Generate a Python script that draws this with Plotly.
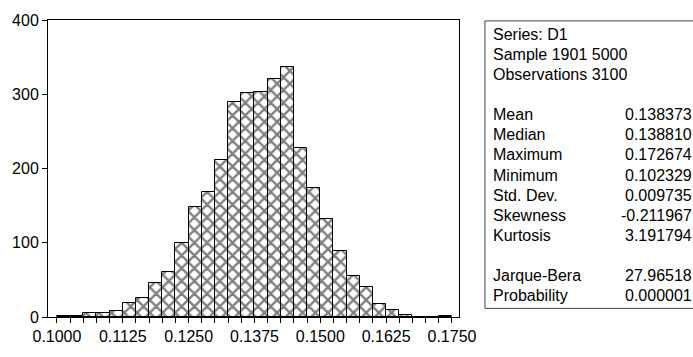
import plotly.graph_objects as go

# ---- data ----
bin_lower = [0.1000, 0.1025, 0.1050, 0.1075, 0.1100, 0.1125, 0.1150, 0.1175, 0.1200, 0.1225,
             0.1250, 0.1275, 0.1300, 0.1325, 0.1350, 0.1375, 0.1400, 0.1425, 0.1450, 0.1475,
             0.1500, 0.1525, 0.1550, 0.1575, 0.1600, 0.1625, 0.1650, 0.1675, 0.1700, 0.1725]
counts = [1, 2, 6, 5, 8, 19, 25, 46, 61, 99,
          148, 169, 212, 289, 302, 303, 320, 337, 228, 174,
          132, 89, 55, 40, 18, 10, 3, 0, 0, 1]
bin_width = 0.0025

stat_header = ["Series: D1", "Sample 1901 5000", "Observations 3100"]
stat_names = ["Mean", "Median", "Maximum", "Minimum", "Std. Dev.", "Skewness", "Kurtosis"]
stat_values = ["0.138373", "0.138810", "0.172674", "0.102329", "0.009735", "-0.211967", "3.191794"]
test_names = ["Jarque-Bera", "Probability"]
test_values = ["27.96518", "0.000001"]

FONT = "Liberation Sans, Arial, sans-serif"

fig = go.Figure()
fig.add_trace(go.Bar(
    x=bin_lower, y=counts, width=bin_width, offset=0,
    marker=dict(color="white", line=dict(color="black", width=1),
                pattern=dict(shape="x", fgcolor="black", bgcolor="white", size=9, solidity=0.45)),
    hoverinfo="skip",
))

W, H = 693, 357
L, R, T, B = 47, 459, 18, 328
fig.update_layout(
    width=W, height=H,
    margin=dict(l=L, r=W - R, t=T, b=H - B, pad=0),
    paper_bgcolor="white", plot_bgcolor="white",
    bargap=0, showlegend=False,
    font=dict(family=FONT, size=16, color="black"),
)
fig.update_xaxes(
    range=[0.09830, 0.17633], tick0=0.1, dtick=0.0125, tickformat=".4f",
    ticks="outside", ticklen=5, tickwidth=1, tickcolor="black",
    minor=dict(tick0=0.1, dtick=0.0025, ticks="outside", ticklen=5, tickcolor="black", showgrid=False),
    showline=True, linecolor="black", linewidth=1, mirror=True,
    showgrid=False, zeroline=False,
)
fig.update_yaxes(
    range=[0, 400], dtick=100, ticks="outside", ticklen=5, tickwidth=1, tickcolor="black",
    showline=True, linecolor="black", linewidth=1, mirror=True,
    showgrid=False, zeroline=False,
)

def px_x(p):
    return (p - L) / (R - L)

def px_y(p):
    return (B - p) / (B - T)

# stats box
fig.add_shape(type="rect", xref="paper", yref="paper",
              x0=px_x(485), x1=px_x(705), y0=px_y(319), y1=px_y(19),
              line=dict(color="#444444", width=1), fillcolor="rgba(0,0,0,0)")

lines = [(h, None) for h in stat_header] + [("", None)] + \
        list(zip(stat_names, stat_values)) + [("", None)] + list(zip(test_names, test_values))
y0, dy = 33.5, 20.9
for i, (lab, val) in enumerate(lines):
    yy = px_y(y0 + i * dy)
    if lab:
        fig.add_annotation(x=px_x(491), y=yy, xref="paper", yref="paper", text=lab,
                           showarrow=False, xanchor="left", yanchor="middle",
                           font=dict(family=FONT, size=16, color="black"))
    if val:
        fig.add_annotation(x=px_x(695), y=yy, xref="paper", yref="paper", text=val,
                           showarrow=False, xanchor="right", yanchor="middle",
                           font=dict(family=FONT, size=16, color="black"))

fig.write_html("out.html")
